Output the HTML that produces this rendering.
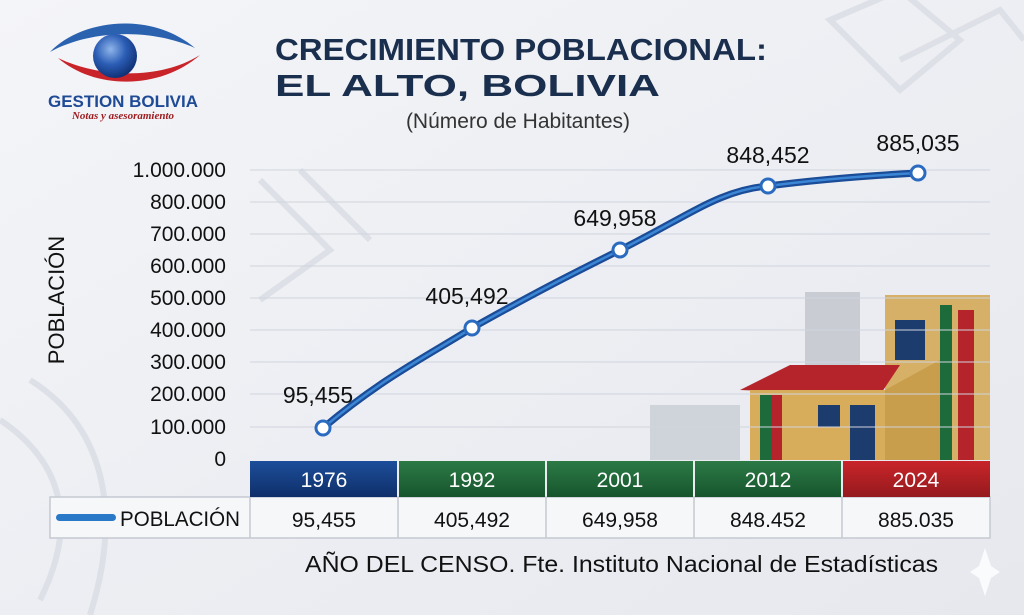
<!DOCTYPE html>
<html><head><meta charset="utf-8"><style>
html,body{margin:0;padding:0;width:1024px;height:615px;overflow:hidden;background:#eef0f4}
</style></head><body>
<svg width="1024" height="615" viewBox="0 0 1024 615" xmlns="http://www.w3.org/2000/svg" font-family="Liberation Sans, DejaVu Sans, sans-serif">
<defs>
<linearGradient id="bg" x1="0" y1="0" x2="1" y2="1"><stop offset="0" stop-color="#f4f5f8"/><stop offset="1" stop-color="#e6e8ee"/></linearGradient>
<radialGradient id="eye" cx="0.4" cy="0.35" r="0.7"><stop offset="0" stop-color="#8fb5ea"/><stop offset="0.5" stop-color="#2b5db5"/><stop offset="1" stop-color="#0d2c6e"/></radialGradient>
<linearGradient id="blue" x1="0" y1="0" x2="0" y2="1"><stop offset="0" stop-color="#1d4e9a"/><stop offset="1" stop-color="#0f2f6a"/></linearGradient>
<linearGradient id="green" x1="0" y1="0" x2="0" y2="1"><stop offset="0" stop-color="#2c7a46"/><stop offset="1" stop-color="#17552d"/></linearGradient>
<linearGradient id="red" x1="0" y1="0" x2="0" y2="1"><stop offset="0" stop-color="#c8252a"/><stop offset="1" stop-color="#951a1d"/></linearGradient>
</defs>
<rect width="1024" height="615" fill="url(#bg)"/>
<g fill="none" stroke="#dde0e7" stroke-width="6">
<path d="M830 20 L900 -10 L960 40 L900 90 Z"/><path d="M900 60 L1000 10 L1024 40"/>
<path d="M0 420 C60 460 80 520 40 600"/><path d="M30 380 C110 430 120 520 90 615"/>
<path d="M260 180 L330 250 L260 300"/><path d="M300 170 L370 240"/>
</g>
<g>
<rect x="650" y="405" width="90" height="55" fill="#cfd3da"/>
<rect x="805" y="292" width="55" height="120" fill="#c9ccd3"/>
<rect x="885" y="295" width="105" height="165" fill="#d6b066"/>
<rect x="940" y="305" width="12" height="155" fill="#1d6b3a"/>
<rect x="958" y="310" width="16" height="150" fill="#b5242a"/>
<rect x="895" y="320" width="30" height="40" fill="#1c3c6e"/>
<polygon points="740,390 790,365 900,365 880,395" fill="#b5242a"/>
<rect x="750" y="390" width="135" height="70" fill="#d7ad5c"/>
<rect x="760" y="395" width="12" height="65" fill="#1d6b3a"/>
<rect x="772" y="395" width="10" height="65" fill="#b5242a"/>
<rect x="818" y="405" width="22" height="22" fill="#1c3c6e"/>
<rect x="850" y="405" width="25" height="55" fill="#1c3c6e"/>
<polygon points="885,390 940,360 940,460 885,460" fill="#c89d4c"/>
</g>
<g>
<path d="M50 52 C80 20 150 10 195 48 C150 28 90 30 50 52Z" fill="#2a62b0"/>
<path d="M58 58 C95 90 160 90 200 55 C160 80 100 78 58 58Z" fill="#c8242a"/>
<circle cx="115" cy="56" r="22" fill="url(#eye)"/>
<text x="123" y="107" text-anchor="middle" font-size="17" font-weight="bold" fill="#1e4a96" textLength="150" lengthAdjust="spacingAndGlyphs">GESTION BOLIVIA</text>
<text x="123" y="119" text-anchor="middle" font-size="11" font-style="italic" font-weight="bold" font-family="Liberation Serif, serif" fill="#9c1c20">Notas y asesoramiento</text>
</g>
<text x="275" y="60" font-size="31" font-weight="bold" fill="#1a2e4d" textLength="492" lengthAdjust="spacingAndGlyphs">CRECIMIENTO POBLACIONAL:</text>
<text x="275" y="96" font-size="31" font-weight="bold" fill="#1a2e4d" textLength="385" lengthAdjust="spacingAndGlyphs">EL ALTO, BOLIVIA</text>
<text x="518" y="128" text-anchor="middle" font-size="21" fill="#333">(Número de Habitantes)</text>
<g stroke="#d0d4dc" stroke-width="1">
<line x1="250" y1="170" x2="990" y2="170"/><line x1="250" y1="202" x2="990" y2="202"/><line x1="250" y1="234" x2="990" y2="234"/><line x1="250" y1="266" x2="990" y2="266"/><line x1="250" y1="298" x2="990" y2="298"/><line x1="250" y1="330" x2="990" y2="330"/><line x1="250" y1="362" x2="990" y2="362"/><line x1="250" y1="394" x2="990" y2="394"/><line x1="250" y1="427" x2="990" y2="427"/>
</g>
<g font-size="21" fill="#111" text-anchor="end">
<text x="226" y="177">1.000.000</text><text x="226" y="209">800.000</text><text x="226" y="241">700.000</text><text x="226" y="273">600.000</text><text x="226" y="305">500.000</text><text x="226" y="337">400.000</text><text x="226" y="369">300.000</text><text x="226" y="401">200.000</text><text x="226" y="434">100.000</text><text x="226" y="466">0</text>
</g>
<text transform="translate(64 300) rotate(-90)" text-anchor="middle" font-size="22" fill="#111">POBLACIÓN</text>
<path d="M323 428 C380 380 420 360 472 328 C540 290 570 275 620 250 C690 215 720 190 768 186 C830 178 880 175 918 173" fill="none" stroke="#1b4c97" stroke-width="7" stroke-linecap="round"/>
<path d="M323 428 C380 380 420 360 472 328 C540 290 570 275 620 250 C690 215 720 190 768 186 C830 178 880 175 918 173" fill="none" stroke="#3c86d6" stroke-width="2.5" stroke-linecap="round"/>
<g fill="#fff" stroke="#2a6bc0" stroke-width="3">
<circle cx="323" cy="428" r="7"/><circle cx="472" cy="328" r="7"/><circle cx="620" cy="250" r="7"/><circle cx="768" cy="186" r="7"/><circle cx="918" cy="173" r="7"/>
</g>
<g font-size="23" fill="#111" text-anchor="middle">
<text x="318" y="403">95,455</text><text x="467" y="304">405,492</text><text x="615" y="226">649,958</text><text x="768" y="163">848,452</text><text x="918" y="151">885,035</text>
</g>
<rect x="50" y="497" width="940" height="41" fill="#f6f7f9" stroke="#c5c9d1" stroke-width="1.5"/>
<g stroke="#c5c9d1" stroke-width="1.5"><line x1="250" y1="497" x2="250" y2="538"/><line x1="398" y1="497" x2="398" y2="538"/><line x1="546" y1="497" x2="546" y2="538"/><line x1="694" y1="497" x2="694" y2="538"/><line x1="842" y1="497" x2="842" y2="538"/></g>
<rect x="250" y="461" width="147" height="36" fill="url(#blue)"/>
<rect x="399" y="461" width="146" height="36" fill="url(#green)"/>
<rect x="547" y="461" width="146" height="36" fill="url(#green)"/>
<rect x="695" y="461" width="146" height="36" fill="url(#green)"/>
<rect x="843" y="461" width="147" height="36" fill="url(#red)"/>
<g font-size="21" fill="#fff" text-anchor="middle">
<text x="324" y="487">1976</text><text x="472" y="487">1992</text><text x="620" y="487">2001</text><text x="768" y="487">2012</text><text x="916" y="487">2024</text>
</g>
<rect x="56" y="514" width="60" height="7" rx="3.5" fill="#2a78c8"/>
<text x="180" y="526" text-anchor="middle" font-size="21" fill="#111" textLength="120" lengthAdjust="spacingAndGlyphs">POBLACIÓN</text>
<g font-size="21" fill="#111" text-anchor="middle">
<text x="324" y="527">95,455</text><text x="472" y="527">405,492</text><text x="620" y="527">649,958</text><text x="768" y="527">848.452</text><text x="916" y="527">885.035</text>
</g>
<text x="305" y="572" font-size="23" fill="#111" textLength="633" lengthAdjust="spacingAndGlyphs">AÑO DEL CENSO. Fte. Instituto Nacional de Estadísticas</text>
<path d="M985 548 L991 566 L1000 572 L991 578 L985 596 L979 578 L970 572 L979 566Z" fill="#fafbfc"/>
</svg>
</body></html>
